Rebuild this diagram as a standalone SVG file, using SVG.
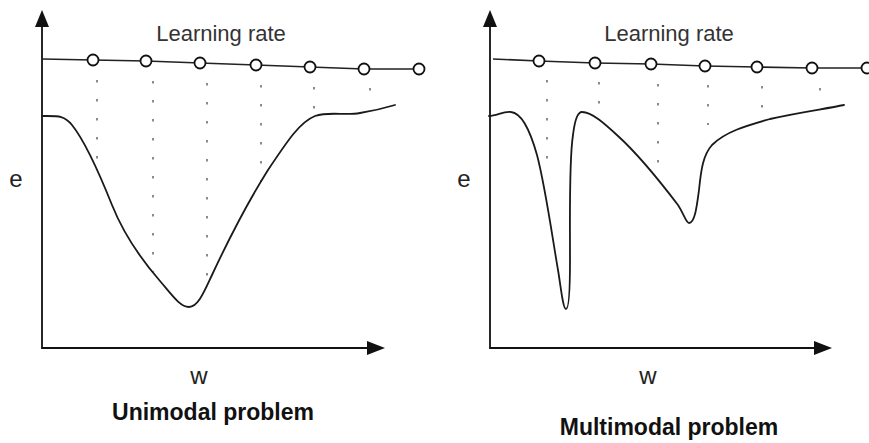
<svg xmlns="http://www.w3.org/2000/svg" width="869" height="443" viewBox="0 0 869 443">
<style>
text{font-family:"Liberation Sans",Arial,sans-serif;}
.axis{stroke:#111;stroke-width:1.8;fill:none;}
.head{fill:#111;stroke:none;}
.lr{stroke:#222;stroke-width:1.6;fill:none;}
.pt{fill:#fff;stroke:#111;stroke-width:1.8;}
.dot{stroke:#666;stroke-width:1.5;stroke-dasharray:2.5 16.5;fill:none;}
.curve{stroke:#1a1a1a;stroke-width:1.8;fill:none;stroke-linecap:round;stroke-linejoin:round;}
.lbl{font-size:22px;fill:#333;}
.var{font-size:24px;fill:#222;}
.title{font-size:23px;font-weight:bold;fill:#111;}
</style>
<rect width="869" height="443" fill="#fff"/>

<g id="unimodal">
  <g id="uni-axes">
    <path class="axis" d="M42,25 V348 H370"/>
    <polygon class="head" points="42,10 35,27 49,27"/>
    <polygon class="head" points="385,348 367,341 367,355"/>
  </g>
  <g id="uni-dots">
    <line class="dot" x1="97" y1="80" x2="97" y2="162"/>
    <line class="dot" x1="153" y1="81" x2="153" y2="272"/>
    <line class="dot" x1="207" y1="83" x2="207" y2="282"/>
    <line class="dot" x1="261" y1="85" x2="261" y2="182"/>
    <line class="dot" x1="314" y1="87" x2="314" y2="112"/>
    <line class="dot" x1="370" y1="88" x2="370" y2="92"/>
  </g>
  <g id="uni-lr">
    <polyline class="lr" points="42,59 93,60 146,61 200,63 256,65 310,67 364,69 419,69"/>
    <circle class="pt" cx="93" cy="60" r="5.5"/>
    <circle class="pt" cx="146" cy="61" r="5.5"/>
    <circle class="pt" cx="200" cy="63" r="5.5"/>
    <circle class="pt" cx="256" cy="65" r="5.5"/>
    <circle class="pt" cx="310" cy="67" r="5.5"/>
    <circle class="pt" cx="364" cy="69" r="5.5"/>
    <circle class="pt" cx="419" cy="69" r="5.5"/>
  </g>
  <path id="uni-curve" class="curve" d="M42,116 C58,116 64,115 72,125 C84,140 100,175 112,205 C122,230 140,258 160,281 C172,295 180,307 189,307 C198,307 204,292 212,275 C226,245 246,205 268,170 C288,140 300,122 315,116 C330,111 345,116 360,113 C372,111 385,108 395,105"/>
  <text class="lbl" x="221" y="41" text-anchor="middle">Learning rate</text>
  <text class="var" x="16" y="187" text-anchor="middle">e</text>
  <text class="var" x="199" y="384" text-anchor="middle" font-size="21">w</text>
  <text class="title" x="213" y="420" text-anchor="middle">Unimodal problem</text>
</g>

<g id="multimodal">
  <g id="multi-axes">
    <path class="axis" d="M490,25 V348 H816"/>
    <polygon class="head" points="490,10 483,27 497,27"/>
    <polygon class="head" points="832,348 814,341 814,355"/>
  </g>
  <g id="multi-dots">
    <line class="dot" x1="547" y1="80" x2="547" y2="160"/>
    <line class="dot" x1="599" y1="82" x2="599" y2="104"/>
    <line class="dot" x1="658" y1="84" x2="658" y2="165"/>
    <line class="dot" x1="708" y1="85" x2="708" y2="125"/>
    <line class="dot" x1="762" y1="86" x2="762" y2="108"/>
    <line class="dot" x1="820" y1="88" x2="820" y2="91"/>
  </g>
  <g id="multi-lr">
    <polyline class="lr" points="493,59 539,61 595,63 651,64 705,66 757,67 812,68 867,68"/>
    <circle class="pt" cx="539" cy="61" r="5.5"/>
    <circle class="pt" cx="595" cy="63" r="5.5"/>
    <circle class="pt" cx="651" cy="64" r="5.5"/>
    <circle class="pt" cx="705" cy="66" r="5.5"/>
    <circle class="pt" cx="757" cy="67" r="5.5"/>
    <circle class="pt" cx="812" cy="68" r="5.5"/>
    <circle class="pt" cx="867" cy="68" r="5.5"/>
  </g>
  <path id="multi-curve" class="curve" d="M489,116 C497,116 503,111 511,112 C522,113 530,130 537,155 C545,185 552,235 558,270 C561,288 563,309 566,309 C569,309 570,290 570,260 C570,210 569,160 573,135 C575,118 578,112 582,112 C592,112 605,124 618,136 C640,156 662,184 678,205 C684,214 686,223 689,223 C695,223 697,205 699,190 C701,170 703,155 712,145 C725,132 745,126 770,119 C800,112 825,109 844,105"/>
  <text class="lbl" x="669" y="41" text-anchor="middle">Learning rate</text>
  <text class="var" x="464" y="187" text-anchor="middle">e</text>
  <text class="var" x="648" y="384" text-anchor="middle" font-size="21">w</text>
  <text class="title" x="669" y="435" text-anchor="middle">Multimodal problem</text>
</g>
</svg>
